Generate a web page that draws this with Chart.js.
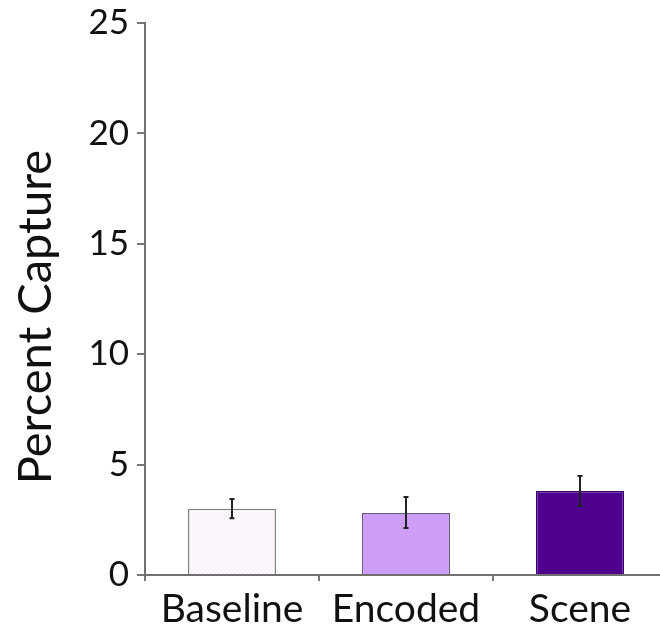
<!DOCTYPE html>
<html>
<head>
<meta charset="utf-8">
<script src="https://cdn.jsdelivr.net/npm/chart.js@4.4.1/dist/chart.umd.min.js"></script>
<style>
html,body{margin:0;padding:0;background:#fff;overflow:hidden;}
#wrap{width:660px;height:627px;position:relative;overflow:hidden;}
#c{position:absolute;left:0;top:-6px;}
</style>
</head>
<body>
<div id="wrap"><canvas id="c" width="667" height="633"></canvas></div>
<script>
const categories = ["Baseline", "Encoded", "Scene"];
const percentCapture = [3.0, 2.81, 3.8];
const errorMinus = [0.43, 0.68, 0.68];
const errorPlus = [0.44, 0.72, 0.68];
const yTicks = [0, 5, 10, 15, 20, 25];

// faint dotted pattern for the baseline bar
function makePattern() {
  const p = document.createElement('canvas');
  p.width = 4; p.height = 4;
  const g = p.getContext('2d');
  g.fillStyle = '#fdf9fd';
  g.fillRect(0, 0, 4, 4);
  g.fillStyle = '#ecdcee';
  g.fillRect(0, 0, 1, 1);
  g.fillRect(2, 2, 1, 1);
  return g.createPattern(p, 'repeat');
}
const ctx0 = document.getElementById('c').getContext('2d');
const fills = [makePattern(), '#cc9ef8', '#50008f'];
const borders = ['#808080', '#70588a', '#3a0070'];

const errorBars = {
  id: 'errorBars',
  afterDatasetsDraw(chart) {
    const ctx = chart.ctx;
    const meta = chart.getDatasetMeta(0);
    const ys = chart.scales.y;
    ctx.save();
    ctx.strokeStyle = '#222';
    ctx.lineWidth = 2;
    meta.data.forEach((bar, i) => {
      const v = percentCapture[i];
      const yTop = ys.getPixelForValue(v + errorPlus[i]);
      const yBot = ys.getPixelForValue(v - errorMinus[i]);
      const x = bar.x;
      ctx.beginPath();
      ctx.moveTo(x, yTop); ctx.lineTo(x, yBot);
      ctx.moveTo(x - 2.5, yTop); ctx.lineTo(x + 2.5, yTop);
      ctx.moveTo(x - 2.5, yBot); ctx.lineTo(x + 2.5, yBot);
      ctx.stroke();
    });
    ctx.restore();
  }
};

new Chart(ctx0, {
  type: 'bar',
  data: {
    labels: categories,
    datasets: [{
      data: percentCapture,
      backgroundColor: fills,
      borderColor: borders,
      borderWidth: 1.5,
      categoryPercentage: 1,
      barPercentage: 0.507
    }]
  },
  options: {
    responsive: false,
    animation: false,
    layout: { padding: { top: 2, right: 0, left: 0, bottom: 0 } },
    plugins: { legend: { display: false }, tooltip: { enabled: false } },
    scales: {
      x: {
        grid: { display: true, drawOnChartArea: false, drawTicks: true, tickLength: 6, color: '#777', lineWidth: 2, offset: true },
        border: { display: true, color: '#707070', width: 2 },
        ticks: { color: '#111', font: { family: 'Lato', size: 39 }, padding: 5 },
        afterFit(scale) { scale.height = 52; }
      },
      y: {
        min: 0, max: 25,
        afterBuildTicks(scale) { scale.ticks = yTicks.map(v => ({ value: v })); },
        grid: { display: true, drawOnChartArea: false, drawTicks: true, tickLength: 8, color: '#777', lineWidth: 2 },
        border: { display: true, color: '#707070', width: 2 },
        ticks: { color: '#111', font: { family: 'Lato', size: 35 }, padding: 8 },
        title: { display: true, text: 'Percent Capture   ', color: '#111', font: { family: 'Lato', size: 47 }, padding: { top: 8, bottom: 0 } },
        afterFit(scale) { scale.width = 145; }
      }
    }
  },
  plugins: [errorBars]
});
</script>
</body>
</html>
